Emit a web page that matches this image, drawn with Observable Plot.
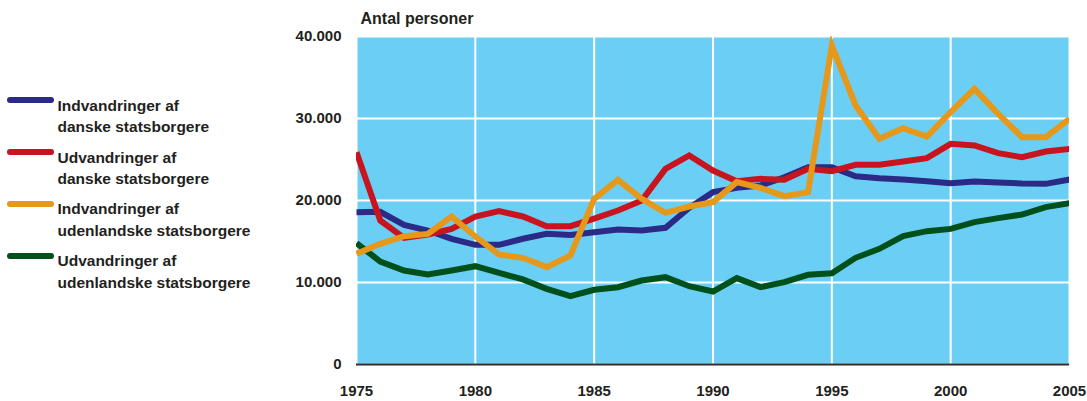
<!DOCTYPE html>
<html>
<head>
<meta charset="utf-8">
<script src="https://cdn.jsdelivr.net/npm/d3@7"></script>
<script src="https://cdn.jsdelivr.net/npm/@observablehq/plot@0.6"></script>
<style>
  html, body { margin: 0; padding: 0; background: #fff; }
  #wrap { position: relative; width: 1087px; height: 401px; font-family: "Liberation Sans", Arial, sans-serif; color: #231f20; }
  #wrap svg { position: absolute; left: 0; top: 0; }
  .title { position: absolute; left: 360.5px; top: 10.7px; font-size: 16px; line-height: 16px; font-weight: bold; white-space: nowrap; }
  .item { position: absolute; left: 0; width: 300px; height: 48px; }
  .swatch { position: absolute; left: 7px; top: 2.4px; width: 47px; height: 6px; border-radius: 3px; }
  .label { position: absolute; left: 57.5px; top: 0; font-size: 15.5px; line-height: 21.5px; font-weight: bold; white-space: nowrap; }
</style>
</head>
<body>
<div id="wrap"></div>
<script>
const years = d3.range(1975, 2006);

const indvDanske = [18580, 18620, 17030, 16340, 15330, 14590, 14590, 15330, 15930, 15800,
  16140, 16460, 16340, 16670, 19110, 21020, 21540, 21830, 22840, 24060,
  24060, 22960, 22720, 22560, 22360, 22110, 22320, 22200, 22070, 22030, 22560];

const udvDanske = [25890, 17560, 15450, 15850, 16540, 18050, 18700, 18050, 16870, 16870,
  17800, 18780, 20000, 23860, 25490, 23660, 22360, 22640, 22520, 23860,
  23580, 24350, 24350, 24760, 25160, 26910, 26710, 25770, 25280, 25980, 26300];

const indvUdenl = [13500, 14720, 15650, 15930, 18050, 15610, 13410, 13010, 11870, 13290,
  20200, 22520, 20200, 18500, 19270, 19800, 22240, 21540, 20530, 21020,
  38900, 31590, 27520, 28820, 27800, 30770, 33620, 30570, 27720, 27720, 29960];

const udvUdenl = [14800, 12560, 11460, 10980, 11460, 11990, 11180, 10370, 9230, 8330,
  9110, 9430, 10240, 10650, 9550, 8900, 10530, 9430, 10040, 10940,
  11130, 13010, 14110, 15650, 16260, 16540, 17360, 17850, 18290, 19190, 19680];

const seriesNames = [
  ["Indvandringer af", "danske statsborgere"],
  ["Udvandringer af", "danske statsborgere"],
  ["Indvandringer af", "udenlandske statsborgere"],
  ["Udvandringer af", "udenlandske statsborgere"]
];
const seriesColors = ["#2c2a87", "#c8141e", "#e5981a", "#00501c"];
const seriesValues = [indvDanske, udvDanske, indvUdenl, udvUdenl];

const xTicks = [1975, 1980, 1985, 1990, 1995, 2000, 2005];
const yTicks = [0, 10000, 20000, 30000, 40000];
const yTickLabels = ["0", "10.000", "20.000", "30.000", "40.000"];
const yTitle = "Antal personer";

// draw order: blue, red, green, orange (orange on top)
const drawOrder = [0, 1, 3, 2];

const lineMarks = drawOrder.map(i =>
  Plot.line(years.map((y, k) => ({year: y, value: seriesValues[i][k]})), {
    x: "year", y: "value",
    stroke: seriesColors[i], strokeWidth: 6,
    strokeLinejoin: "miter", strokeMiterlimit: 4, strokeLinecap: "butt",
    clip: true
  })
);

const chart = Plot.plot({
  width: 1087,
  height: 401,
  marginLeft: 356,
  marginRight: 18,
  marginTop: 36,
  marginBottom: 37,
  style: { fontFamily: "Liberation Sans, Arial, sans-serif", fontSize: "15px", fontWeight: "bold", color: "#231f20", overflow: "visible" },
  x: { domain: [1975, 2005] },
  y: { domain: [0, 40000] },
  marks: [
    Plot.frame({ fill: "#6bcff5", stroke: null }),
    Plot.ruleX(xTicks, { stroke: "#fff", strokeWidth: 2 }),
    Plot.ruleY(yTicks, { stroke: "#fff", strokeWidth: 2 }),
    ...lineMarks,
    Plot.ruleY([0], { stroke: "#2d2d2d", strokeWidth: 2 }),
    Plot.axisX({ ticks: xTicks, tickSize: 0, tickPadding: 21, tickFormat: d => String(d), label: null, fill: "#231f20" }),
    Plot.axisY({ ticks: yTicks, tickSize: 0, tickPadding: 15, tickFormat: d => yTickLabels[yTicks.indexOf(d)], label: null, fill: "#231f20" })
  ]
});

const wrap = document.getElementById("wrap");
wrap.appendChild(chart);

const t = document.createElement("div");
t.className = "title";
t.textContent = yTitle;
wrap.appendChild(t);

const legendTops = [94.6, 146.5, 198.4, 250.3];
seriesNames.forEach((lines, i) => {
  const item = document.createElement("div");
  item.className = "item";
  item.style.top = legendTops[i] + "px";
  const sw = document.createElement("div");
  sw.className = "swatch";
  sw.style.background = seriesColors[i];
  const lab = document.createElement("div");
  lab.className = "label";
  lab.innerHTML = lines.join("<br>");
  item.appendChild(sw);
  item.appendChild(lab);
  wrap.appendChild(item);
});
</script>
</body>
</html>
